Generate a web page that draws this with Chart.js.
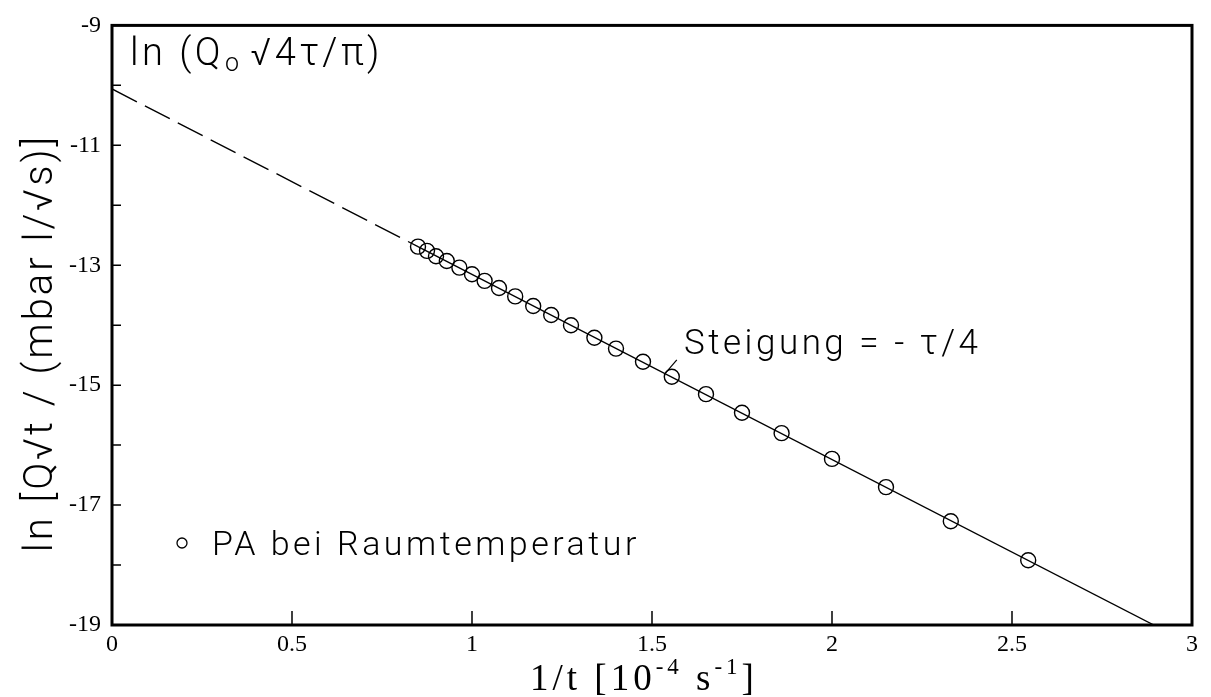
<!DOCTYPE html>
<html>
<head>
<meta charset="utf-8">
<script src="https://cdn.jsdelivr.net/npm/chart.js@4.4.1/dist/chart.umd.min.js"></script>
<style>
  body { margin: 0; background: #fff; }
  canvas { display: block; }
</style>
</head>
<body>
<canvas id="chart" width="1211" height="697"></canvas>
<script>
// measured points, 1/t in 1e-4 1/s and ln(Q*sqrt(t))
const invT = [0.85, 0.875, 0.90, 0.93, 0.965, 1.00, 1.035, 1.075, 1.12, 1.17, 1.22, 1.275,
              1.34, 1.40, 1.475, 1.555, 1.65, 1.75, 1.86, 2.00, 2.15, 2.33, 2.545];
const lnQ  = [-12.69, -12.76, -12.85, -12.93, -13.04, -13.15, -13.26, -13.38, -13.52, -13.68, -13.83, -14.00,
              -14.21, -14.39, -14.61, -14.86, -15.15, -15.46, -15.80, -16.23, -16.70, -17.27, -17.92];

// fitted straight line: extrapolated part (dashed) and fit range (solid)
const fitX = [0, 0.85, 2.894];
const fitY = [-10.06, -12.69, -19.0];

const xTicks = [0, 0.5, 1, 1.5, 2, 2.5, 3];
const yLabelTicks = [-19, -17, -15, -13, -11, -9];

const SANS = 'Roboto, "Liberation Sans", sans-serif';
const SERIF = '"Liberation Serif", "DejaVu Serif", serif';

const framePlugin = {
  id: 'frame',
  afterDraw(chart) {
    const { ctx, chartArea: a, scales: { x, y } } = chart;
    ctx.save();
    ctx.strokeStyle = '#000';
    ctx.lineWidth = 3;
    ctx.strokeRect(a.left, a.top, a.right - a.left, a.bottom - a.top);

    // inward tick marks
    ctx.lineWidth = 1.5;
    ctx.beginPath();
    for (let v = -18; v <= -10; v++) {
      const py = y.getPixelForValue(v);
      ctx.moveTo(a.left, py);
      ctx.lineTo(a.left + 9, py);
    }
    xTicks.slice(1, -1).forEach(v => {
      const px = x.getPixelForValue(v);
      ctx.moveTo(px, a.bottom);
      ctx.lineTo(px, a.bottom - 14);
    });
    ctx.stroke();

    ctx.fillStyle = '#000';
    ctx.textBaseline = 'alphabetic';
    ctx.textAlign = 'left';

    // intercept label
    ctx.letterSpacing = '3.5px';
    ctx.font = '300 38px ' + SANS;
    let tx = 130, ty = 65;
    ctx.fillText('ln (Q', tx, ty);
    tx += ctx.measureText('ln (Q').width + 1;
    ctx.font = '300 25px ' + SANS;
    ctx.fillText('o', tx, ty + 6);
    tx += ctx.measureText('o').width + 8;
    ctx.font = '300 38px ' + SANS;
    ctx.fillText('\u221A4\u03C4/\u03C0)', tx, ty);

    // slope label with leader
    const sx = x.getPixelForValue(1.555), sy = y.getPixelForValue(-14.86);
    ctx.beginPath();
    ctx.lineWidth = 1.2;
    ctx.moveTo(sx - 7, sy - 3);
    ctx.lineTo(sx + 5, sy - 17);
    ctx.stroke();
    ctx.letterSpacing = '3.5px';
    ctx.font = '300 35px ' + SANS;
    ctx.fillText('Steigung = - \u03C4/4', 684, 354);

    // legend
    ctx.beginPath();
    ctx.lineWidth = 1.3;
    ctx.arc(182, 543, 5, 0, Math.PI * 2);
    ctx.stroke();
    ctx.font = '300 34px ' + SANS;
    ctx.fillText('PA bei Raumtemperatur', 212, 555);

    // y axis title
    ctx.save();
    ctx.translate(52, 343);
    ctx.rotate(-Math.PI / 2);
    ctx.textAlign = 'center';
    ctx.letterSpacing = '3px';
    ctx.font = '300 40px ' + SANS;
    ctx.fillText('ln [Q\u221At / (mbar l/\u221As)]', 0, 0);
    ctx.restore();

    // x axis title with superscripts
    ctx.letterSpacing = '4px';
    let bx = 530, by = 690;
    const parts = [['1/t [10', 0], ['-4', 1], [' s', 0], ['-1', 1], [']', 0]];
    parts.forEach(([s, sup]) => {
      ctx.font = (sup ? '23px ' : '37px ') + SERIF;
      ctx.fillText(s, bx, sup ? by - 16 : by);
      bx += ctx.measureText(s).width;
    });
    ctx.restore();
  }
};

new Chart(document.getElementById('chart'), {
  type: 'scatter',
  data: {
    datasets: [
      {
        label: 'PA bei Raumtemperatur',
        data: invT.map((v, i) => ({ x: v, y: lnQ[i] })),
        pointStyle: 'circle',
        pointRadius: 7.5,
        pointBorderWidth: 1.4,
        pointBorderColor: '#000',
        pointBackgroundColor: 'rgba(0,0,0,0)',
        showLine: false
      },
      {
        label: 'fit',
        data: fitX.map((v, i) => ({ x: v, y: fitY[i] })),
        showLine: true,
        borderColor: '#000',
        borderWidth: 1.4,
        pointRadius: 0,
        segment: {
          borderDash: c => (c.p0DataIndex === 0 ? [28, 9] : undefined)
        }
      }
    ]
  },
  options: {
    responsive: false,
    animation: false,
    layout: { padding: { top: 20, right: 19, left: 0, bottom: 0 } },
    plugins: { legend: { display: false }, tooltip: { enabled: false } },
    scales: {
      x: {
        type: 'linear',
        min: 0, max: 3,
        afterBuildTicks: s => { s.ticks = xTicks.map(v => ({ value: v })); },
        afterFit: s => { s.height = 72; },
        grid: { display: false, drawTicks: false },
        border: { display: false },
        ticks: {
          padding: 5,
          color: '#000',
          font: { family: SERIF, size: 24 },
          callback: v => String(v)
        }
      },
      y: {
        type: 'linear',
        min: -19, max: -9,
        afterBuildTicks: s => { s.ticks = yLabelTicks.map(v => ({ value: v })); },
        afterFit: s => { s.width = 112; },
        grid: { display: false, drawTicks: false },
        border: { display: false },
        ticks: {
          padding: 11,
          color: '#000',
          font: { family: SERIF, size: 24 },
          callback: v => String(v)
        }
      }
    }
  },
  plugins: [framePlugin]
});
</script>
</body>
</html>
